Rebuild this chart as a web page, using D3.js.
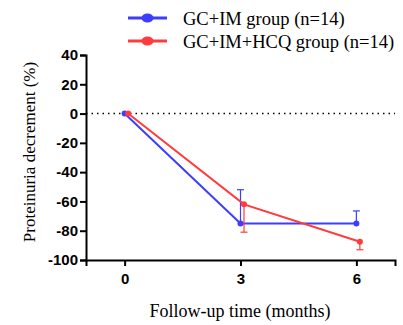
<!DOCTYPE html>
<html>
<head>
<meta charset="utf-8">
<script src="https://cdn.jsdelivr.net/npm/d3@7"></script>
<style>
  body { margin: 0; background: #fff; }
</style>
</head>
<body>
<div id="chart"></div>
<script>
const months = [0, 3, 6];
const groups = ['GC+IM group (n=14)', 'GC+IM+HCQ group (n=14)'];
const colors = ['#3d3dff', '#ff3b3b'];
const imMean = [0, -75, -75];
const imErr = [0, 23, 8.5];   // drawn upward
const hcqMean = [0, -62, -87.5];
const hcqErr = [0, -19, -5.5]; // drawn downward
const yTicks = [40, 20, 0, -20, -40, -60, -80, -100];
const xTicks = [0, 3, 6];

const width = 403;
const height = 325;
const dodge = [0, 3.5];
const serif = 'Liberation Serif';
const sans = 'Liberation Sans';

const svg = d3.select('#chart')
  .append('svg')
  .attr('width', width)
  .attr('height', height);

const x = d3.scaleLinear().domain([-1, 7]).range([86, 395]);
const y = d3.scaleLinear().domain([-100, 40]).range([260, 55]);

// zero reference line
svg.append('line')
  .attr('x1', x(-1)).attr('x2', x(7))
  .attr('y1', y(0)).attr('y2', y(0))
  .attr('stroke', '#000')
  .attr('stroke-width', 1.5)
  .attr('stroke-dasharray', '1.5,4');

const yAxis = svg.append('g')
  .attr('transform', `translate(${x(-1)},0)`)
  .call(d3.axisLeft(y).tickValues(yTicks).tickFormat((d) => String(d)).tickSize(6).tickPadding(2));

const xAxis = svg.append('g')
  .attr('transform', `translate(0,${y(-100)})`)
  .call(d3.axisBottom(x).tickValues(xTicks).tickFormat((d) => String(d)).tickSize(6).tickPadding(7));

[yAxis, xAxis].forEach((g) => {
  g.attr('font-family', sans).attr('font-size', 15).attr('font-weight', 'bold');
  g.select('.domain').attr('stroke', '#000').attr('stroke-width', 2);
  g.selectAll('.tick line').attr('stroke', '#000').attr('stroke-width', 2);
  g.selectAll('.tick text').attr('fill', '#000');
});

const series = [
  { mean: imMean, err: imErr },
  { mean: hcqMean, err: hcqErr },
];

series.forEach((s, i) => {
  const pts = months.map((m, j) => ({ m, v: s.mean[j], e: s.err[j] }));
  const px = (d) => x(d.m) + dodge[i];

  // error bars
  pts.filter((d) => d.e !== 0).forEach((d) => {
    const g = svg.append('g').attr('stroke', colors[i]).attr('stroke-width', 1.2);
    g.append('line')
      .attr('x1', px(d)).attr('x2', px(d))
      .attr('y1', y(d.v)).attr('y2', y(d.v + d.e));
    g.append('line')
      .attr('x1', px(d) - 3.5).attr('x2', px(d) + 3.5)
      .attr('y1', y(d.v + d.e)).attr('y2', y(d.v + d.e));
  });

  svg.append('path')
    .datum(pts)
    .attr('fill', 'none')
    .attr('stroke', colors[i])
    .attr('stroke-width', 2)
    .attr('d', d3.line().x(px).y((d) => y(d.v)));

  svg.selectAll(null)
    .data(pts)
    .enter()
    .append('circle')
    .attr('cx', px)
    .attr('cy', (d) => y(d.v))
    .attr('r', 3)
    .attr('fill', colors[i]);
});

// legend
groups.forEach((name, i) => {
  const ly = 18 + i * 23;
  svg.append('line')
    .attr('x1', 128).attr('x2', 167)
    .attr('y1', ly).attr('y2', ly)
    .attr('stroke', colors[i])
    .attr('stroke-width', 3);
  svg.append('ellipse')
    .attr('cx', 147.5).attr('cy', ly)
    .attr('rx', 6).attr('ry', 4.5)
    .attr('fill', colors[i]);
  svg.append('text')
    .attr('font-family', serif)
    .attr('font-size', 18.5)
    .attr('x', 183)
    .attr('y', ly + 7)
    .text(name);
});

// axis titles
svg.append('text')
  .attr('font-family', serif)
  .attr('font-size', 18)
  .attr('text-anchor', 'middle')
  .attr('x', 240)
  .attr('y', 317)
  .text('Follow-up time (months)');

svg.append('text')
  .attr('font-family', serif)
  .attr('font-size', 17)
  .attr('text-anchor', 'middle')
  .attr('transform', 'translate(35,152) rotate(-90)')
  .text('Proteinuria decrement (%)');
</script>
</body>
</html>
